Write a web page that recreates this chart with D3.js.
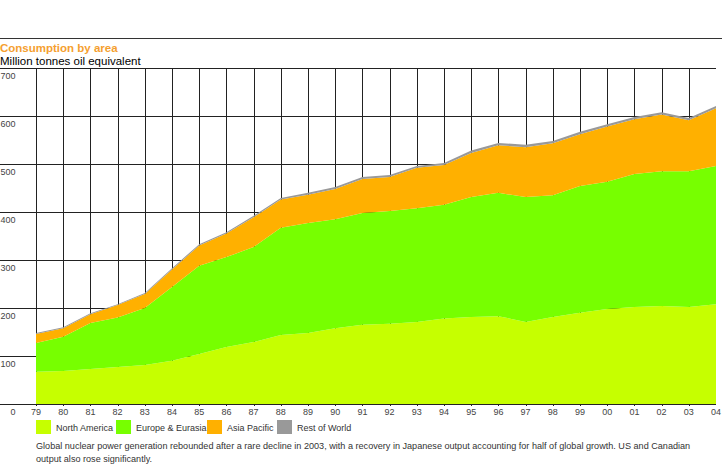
<!DOCTYPE html>
<html>
<head>
<meta charset="utf-8">
<script src="https://cdn.jsdelivr.net/npm/d3@7"></script>
<style>
  body { margin: 0; background: #fff; }
  text { font-family: "Liberation Sans", Arial, sans-serif; }
</style>
</head>
<body>
<div id="chart"></div>
<script>
// Chart values
var years = [1979, 1980, 1981, 1982, 1983, 1984, 1985, 1986, 1987, 1988, 1989, 1990, 1991,
    1992, 1993, 1994, 1995, 1996, 1997, 1998, 1999, 2000, 2001, 2002, 2003, 2004];
var northAmerica = [67, 69, 73, 77, 81, 90, 104, 119, 129, 144, 148, 158, 165,
    167, 171, 178, 181, 183, 171, 181, 190, 198, 202, 204, 202, 208];
var europeEurasia = [60, 71, 96, 103, 119, 154, 184, 187, 198, 223, 229, 227, 233,
    235, 237, 237, 250, 257, 260, 254, 264, 265, 277, 281, 283, 288];
var asiaPacific = [19, 18, 18, 26, 29, 36, 42, 49, 62, 59, 59, 63, 71,
    71, 84, 83, 92, 99, 104, 108, 108, 115, 114, 118, 106, 120];
var restOfWorld = [2, 2, 2, 2, 2, 3, 3, 3, 3, 3, 4, 4, 4,
    4, 4, 4, 5, 5, 5, 5, 5, 5, 5, 5, 5, 5];
var seriesNames = ["North America", "Europe & Eurasia", "Asia Pacific", "Rest of World"];
var seriesColors = ["#c6ff00", "#77ff00", "#ffb000", "#999999"];
var yTicks = [0, 100, 200, 300, 400, 500, 600, 700];

var svgWidth = 722;
var svgHeight = 467;

var plot = { left: 36, right: 716, top: 68, bottom: 404 };

var svg = d3.select("#chart")
    .append("svg")
    .attr("width", svgWidth)
    .attr("height", svgHeight);

// Build rows for the stack
var keys = ["na", "eu", "ap", "rw"];
var rows = years.map(function(y, i) {
    return { year: y, na: northAmerica[i], eu: europeEurasia[i], ap: asiaPacific[i], rw: restOfWorld[i] };
});

var x = d3.scaleLinear()
    .domain([1979, 2004])
    .range([plot.left, plot.right]);

var y = d3.scaleLinear()
    .domain([0, 700])
    .range([plot.bottom, plot.top]);

// Top rule and titles
svg.append("line")
    .attr("x1", 0).attr("x2", svgWidth)
    .attr("y1", 38.5).attr("y2", 38.5)
    .attr("stroke", "#333");

svg.append("text")
    .attr("x", 0).attr("y", 52)
    .attr("fill", "#f5a030")
    .attr("font-weight", "bold")
    .attr("font-size", "11.5px")
    .text("Consumption by area");

svg.append("text")
    .attr("x", 0).attr("y", 65)
    .attr("fill", "#000")
    .attr("font-size", "11.5px")
    .text("Million tonnes oil equivalent");

// Grid
var grid = svg.append("g")
    .attr("stroke", "#222")
    .attr("stroke-width", 1);

grid.selectAll("line.h")
    .data(yTicks.slice(1))
    .enter()
    .append("line")
    .attr("x1", 0)
    .attr("x2", plot.right)
    .attr("y1", d => Math.round(y(d)) + 0.5)
    .attr("y2", d => Math.round(y(d)) + 0.5);

grid.selectAll("line.v")
    .data(years.slice(0, -1))
    .enter()
    .append("line")
    .attr("x1", d => Math.round(x(d)) + 0.5)
    .attr("x2", d => Math.round(x(d)) + 0.5)
    .attr("y1", plot.top)
    .attr("y2", plot.bottom + 2);

// Stacked areas
var stack = d3.stack().keys(keys);
var layers = stack(rows);

var area = d3.area()
    .x(d => x(d.data.year))
    .y0(d => y(d[0]))
    .y1(d => y(d[1]));

svg.append("g")
    .selectAll("path")
    .data(layers)
    .enter()
    .append("path")
    .attr("d", area)
    .attr("fill", (d, i) => seriesColors[i]);

// Baseline
svg.append("line")
    .attr("x1", 0).attr("x2", plot.right)
    .attr("y1", plot.bottom + 0.5).attr("y2", plot.bottom + 0.5)
    .attr("stroke", "#222");

// Y labels (under each gridline)
svg.append("g")
    .selectAll("text")
    .data(yTicks)
    .enter()
    .append("text")
    .attr("x", 15.5)
    .attr("y", d => y(d) + 11)
    .attr("text-anchor", "end")
    .attr("font-size", "9px")
    .attr("fill", "#444")
    .text(d => d);

// X labels
svg.append("g")
    .selectAll("text")
    .data(years)
    .enter()
    .append("text")
    .attr("x", d => x(d))
    .attr("y", plot.bottom + 11)
    .attr("text-anchor", "middle")
    .attr("font-size", "9px")
    .attr("fill", "#444")
    .text(d => d3.format("02")(d % 100));

// Legend
var legendX = [36, 116, 207, 277];
var legend = svg.append("g")
    .selectAll("g")
    .data(seriesNames)
    .enter()
    .append("g")
    .attr("transform", (d, i) => `translate(${legendX[i]}, 420)`);

legend.append("rect")
    .attr("width", 15)
    .attr("height", 14)
    .attr("fill", (d, i) => seriesColors[i]);

legend.append("text")
    .attr("x", 20)
    .attr("y", 10.5)
    .attr("font-size", "9px")
    .attr("fill", "#333")
    .text(d => d);

// Caption
var caption = [
    "Global nuclear power generation rebounded after a rare decline in 2003, with a recovery in Japanese output accounting for half of global growth. US and Canadian",
    "output also rose significantly."
];
svg.append("g")
    .selectAll("text")
    .data(caption)
    .enter()
    .append("text")
    .attr("x", 36)
    .attr("y", (d, i) => 449 + i * 13)
    .attr("font-size", "9.1px")
    .attr("fill", "#333")
    .text(d => d);
</script>
</body>
</html>
